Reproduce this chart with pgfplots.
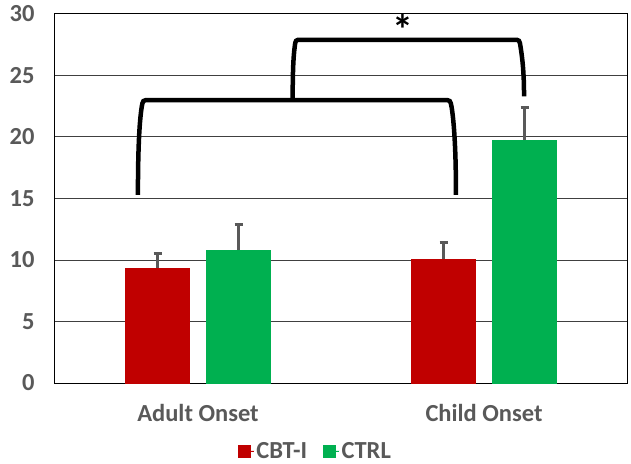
\documentclass[border=0pt]{standalone}
\usepackage{pgfplots}
\pgfplotsset{compat=1.18}
\usepackage{fontspec}
\setmainfont{Carlito}
\definecolor{txtgray}{HTML}{595959}
\definecolor{cbtred}{HTML}{C00000}
\definecolor{ctrlgreen}{HTML}{00B050}
\begin{document}
\begin{tikzpicture}
\begin{axis}[
  name=ax,
  scale only axis,
  width=572pt, height=369pt,
  xmin=-0.5, xmax=1.5,
  ymin=0, ymax=30,
  ybar=17pt,
  bar width=64pt,
  ytick={0,5,...,30},
  xtick={0,1},
  xticklabels={Adult Onset, Child Onset},
  major tick length=0pt,
  ymajorgrids,
  grid style={black!75, line width=1pt},
  axis line style={black, line width=1pt},
  tick label style={font=\fontsize{24.5}{26}\selectfont\bfseries, text=txtgray},
  /pgf/number format/assume math mode=true,
  yticklabel style={xshift=-17pt},
  xticklabel style={yshift=-18pt},
  legend style={draw=none, at={(0.4554,-0.184)}, anchor=center, inner sep=0pt,
    legend columns=2, font=\fontsize{24.5}{26}\selectfont\bfseries, text=txtgray,
    /tikz/every even column/.append style={column sep=14pt}},
  legend image code/.code={\fill[#1] (0pt,-6pt) rectangle (12pt,6pt); \path (0pt,0pt) -- (16pt,0pt);},
  error bars/y dir=plus, error bars/y explicit,
  error bars/error bar style={txtgray, line width=3pt},
  error bars/error mark options={rotate=90, mark size=4pt, line width=3pt, txtgray},
]
\addplot[fill=cbtred, draw=cbtred]
  coordinates {(0,9.33) +- (0,1.2) (1,10.08) +- (0,1.38)};
\addlegendentry{CBT-I}
\addplot[fill=ctrlgreen, draw=ctrlgreen]
  coordinates {(0,10.8) +- (0,2.05) (1,19.73) +- (0,2.65)};
\addlegendentry{CTRL}
% significance brackets
\draw[black, line width=4.5pt, line cap=butt]
  (axis cs:-0.21,15.3) .. controls (axis cs:-0.21,19) and (axis cs:-0.205,21.2) .. (axis cs:-0.197,22.4)
  .. controls (axis cs:-0.193,23.0) .. (axis cs:-0.17,23.0)
  -- (axis cs:0.86,23.0)
  .. controls (axis cs:0.882,23.0) .. (axis cs:0.887,22.4)
  .. controls (axis cs:0.895,21.2) and (axis cs:0.902,19) .. (axis cs:0.902,15.3);
\draw[black, line width=4.5pt, line cap=butt]
  (axis cs:0.331,23.0) .. controls (axis cs:0.331,25.5) and (axis cs:0.334,26.6) .. (axis cs:0.338,27.3)
  .. controls (axis cs:0.341,27.9) .. (axis cs:0.36,27.9)
  -- (axis cs:1.105,27.9)
  .. controls (axis cs:1.124,27.9) .. (axis cs:1.128,27.3)
  .. controls (axis cs:1.134,26.4) and (axis cs:1.14,25.3) .. (axis cs:1.14,23.3);
\node[font=\fontsize{42}{42}\selectfont\bfseries, inner sep=0pt, anchor=north] at (axis cs:0.717,29.95) {*};
\end{axis}
\path (ax.south west) ++(-55pt,-80pt) coordinate (bbA);
\path (ax.north east) ++(4pt,14pt) coordinate (bbB);
\pgfresetboundingbox
\path (bbA) rectangle (bbB);
\end{tikzpicture}
\end{document}
